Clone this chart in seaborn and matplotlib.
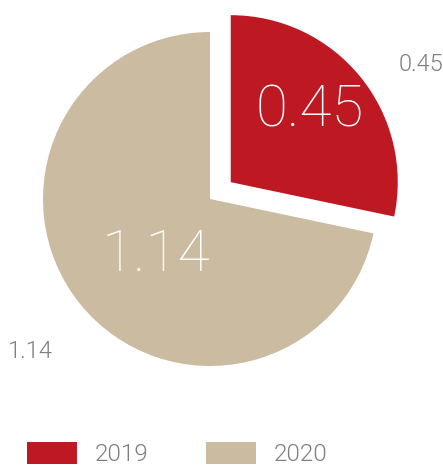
import numpy as np
import matplotlib
matplotlib.use("Agg")
import matplotlib.pyplot as plt
import seaborn as sns
from matplotlib.patches import Patch

years = ["2019", "2020"]
values = [0.45, 1.14]
colors = ["#BE1823", "#CBBBA0"]
value_labels = ["0.45", "1.14"]

sns.set_theme(style="white")
plt.rcParams["font.family"] = ["Roboto", "DejaVu Sans"]

W, H = 443, 467
fig = plt.figure(figsize=(W / 100, H / 100), dpi=100)
ax = fig.add_axes([0, 0, 1, 1])

# pie centre / radius in pixels
cx, cy, r = 210, 199, 167

wedges, _ = ax.pie(values, colors=colors, startangle=90, counterclock=False,
                   explode=[0.16, 0], radius=1,
                   wedgeprops=dict(linewidth=0))

ax.set_xlim(-cx / r, (W - cx) / r)
ax.set_ylim(-(H - cy) / r, cy / r)
ax.set_aspect("equal", adjustable="datalim")
ax.axis("off")

grey = "#7F7F7F"
inner_dist = [0.64, 0.47]
inner_shift = [3, 7]
outer_dist = [1.23, 1.31]
outer_shift = [-4, 5]
for i, w in enumerate(wedges):
    mid = np.deg2rad((w.theta1 + w.theta2) / 2)
    c = np.array(w.center)
    a = mid + np.deg2rad(inner_shift[i])
    p = c + inner_dist[i] * np.array([np.cos(a), np.sin(a)])
    ax.text(p[0], p[1], value_labels[i], color="white", fontsize=42,
            fontweight=100, ha="center", va="center")
    a = mid + np.deg2rad(outer_shift[i])
    p = c + outer_dist[i] * np.array([np.cos(a), np.sin(a)])
    ax.text(p[0], p[1], value_labels[i], color=grey, fontsize=17,
            fontweight=300, ha="left" if np.cos(a) > 0 else "right",
            va="center")

handles = [Patch(facecolor=c, edgecolor="none") for c in colors]
leg = fig.legend(handles, years, loc="center left",
                 bbox_to_anchor=(27 / W, 1 - 454 / H), ncol=2,
                 frameon=False, fontsize=17.5, handlelength=2.05,
                 handleheight=1.05, handletextpad=0.72, columnspacing=2.4,
                 borderpad=0, borderaxespad=0)
for t in leg.get_texts():
    t.set_color(grey)
    t.set_fontweight(300)

fig.savefig("out.png", dpi=100)
